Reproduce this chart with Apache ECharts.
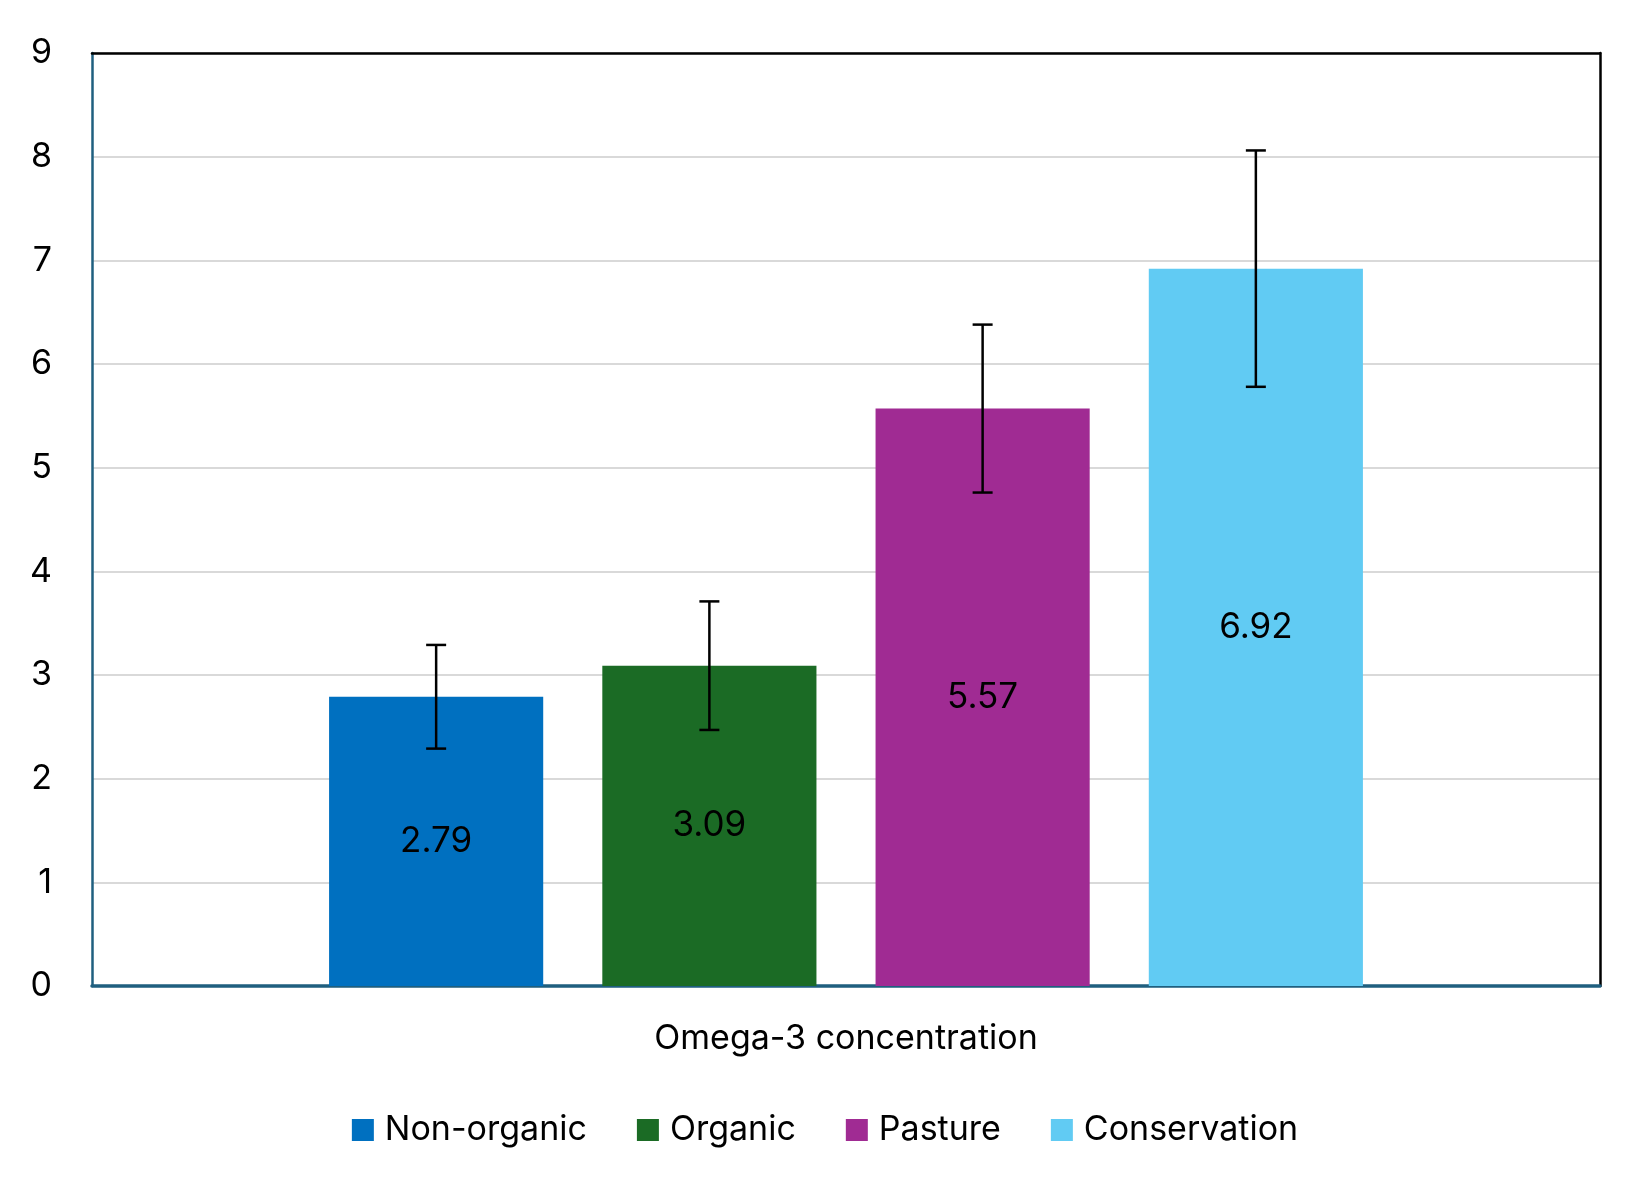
<!DOCTYPE html>
<html>
<head>
<meta charset="utf-8">
<script src="https://cdn.jsdelivr.net/npm/echarts@6/dist/echarts.min.js"></script>
<style>
  html, body { margin: 0; padding: 0; background: #fff; }
  #main { width: 1650px; height: 1200px; }
</style>
</head>
<body>
<div id="main"></div>
<script>
// data
const categories = ['Omega-3 concentration'];
const groups = ['Non-organic', 'Organic', 'Pasture', 'Conservation'];
const means = [2.79, 3.09, 5.57, 6.92];
const errors = [0.5, 0.62, 0.81, 1.14];
const yTicks = [0, 9, 1]; // min, max, step

const colors = ['#0070C0', '#1B6B25', '#A02B93', '#61CBF3'];
const BAR_W = 0.142;   // share of the category band
const BAR_GAP = 0.276; // gap as share of bar width
const FONT = 'Inter, "Noto Sans", sans-serif';

var myChart = echarts.init(document.getElementById('main'));

// bars
var series = groups.map(function (name, i) {
  return {
    name: name,
    type: 'bar',
    data: [means[i]],
    barWidth: (BAR_W * 100) + '%',
    barGap: (BAR_GAP * 100) + '%',
    itemStyle: { color: colors[i] },
    label: {
      show: true,
      position: 'inside',
      color: '#000',
      fontSize: 35,
      fontFamily: FONT,
      formatter: function (p) { return p.value.toFixed(2); }
    },
    z: 2
  };
});

// error bars, one custom series per group
groups.forEach(function (name, i) {
  series.push({
    name: 'err-' + name,
    type: 'custom',
    data: [[0, means[i] - errors[i], means[i] + errors[i]]],
    encode: { x: 0, y: [1, 2] },
    z: 5,
    silent: true,
    renderItem: function (params, api) {
      var band = api.size([1, 0])[0];
      var bw = band * BAR_W;
      var gap = bw * BAR_GAP;
      var n = groups.length;
      var total = n * bw + (n - 1) * gap;
      var c = api.coord([api.value(0), api.value(1)]);
      var hi = api.coord([api.value(0), api.value(2)]);
      var x = c[0] - total / 2 + bw / 2 + i * (bw + gap);
      var cap = 10;
      var st = { stroke: '#000', lineWidth: 2.5 };
      return {
        type: 'group',
        children: [
          { type: 'line', shape: { x1: x, y1: c[1], x2: x, y2: hi[1] }, style: st },
          { type: 'line', shape: { x1: x - cap, y1: c[1], x2: x + cap, y2: c[1] }, style: st },
          { type: 'line', shape: { x1: x - cap, y1: hi[1], x2: x + cap, y2: hi[1] }, style: st }
        ]
      };
    }
  });
});

myChart.setOption({
  animation: false,
  textStyle: { fontFamily: FONT },
  grid: {
    left: 92, right: 50, top: 53, bottom: 214
  },
  legend: {
    data: groups,
    bottom: 48,
    left: 'center',
    icon: 'rect',
    itemWidth: 22,
    itemHeight: 22,
    itemGap: 50,
    textStyle: { fontSize: 34, color: '#000', fontFamily: FONT, padding: [0, 0, 0, 6] }
  },
  xAxis: [{
    type: 'category',
    data: categories,
    z: 1,
    axisLine: { lineStyle: { color: '#1F5F7F', width: 3.5 } },
    axisTick: { show: false },
    axisLabel: { fontSize: 34, color: '#000', margin: 36, fontFamily: FONT }
  }, {
    // top frame line
    type: 'category',
    data: categories,
    position: 'top',
    z: 1,
    axisLine: { onZero: false, lineStyle: { color: '#000', width: 2.5 } },
    axisTick: { show: false },
    axisLabel: { show: false },
    splitLine: { show: false }
  }],
  yAxis: [{
    type: 'value',
    min: yTicks[0],
    max: yTicks[1],
    interval: yTicks[2],
    axisLine: { show: true, lineStyle: { color: '#1F5F7F', width: 2.5 } },
    axisTick: { show: false },
    axisLabel: { fontSize: 34, color: '#000', margin: 40, fontFamily: FONT },
    splitLine: { lineStyle: { color: '#D9D9D9', width: 2 } }
  }, {
    // right frame line
    type: 'value',
    min: yTicks[0],
    max: yTicks[1],
    interval: yTicks[2],
    position: 'right',
    z: 1,
    axisLine: { show: true, onZero: false, lineStyle: { color: '#000', width: 2.5 } },
    axisTick: { show: false },
    axisLabel: { show: false },
    splitLine: { show: false }
  }],
  series: series
});
</script>
</body>
</html>
